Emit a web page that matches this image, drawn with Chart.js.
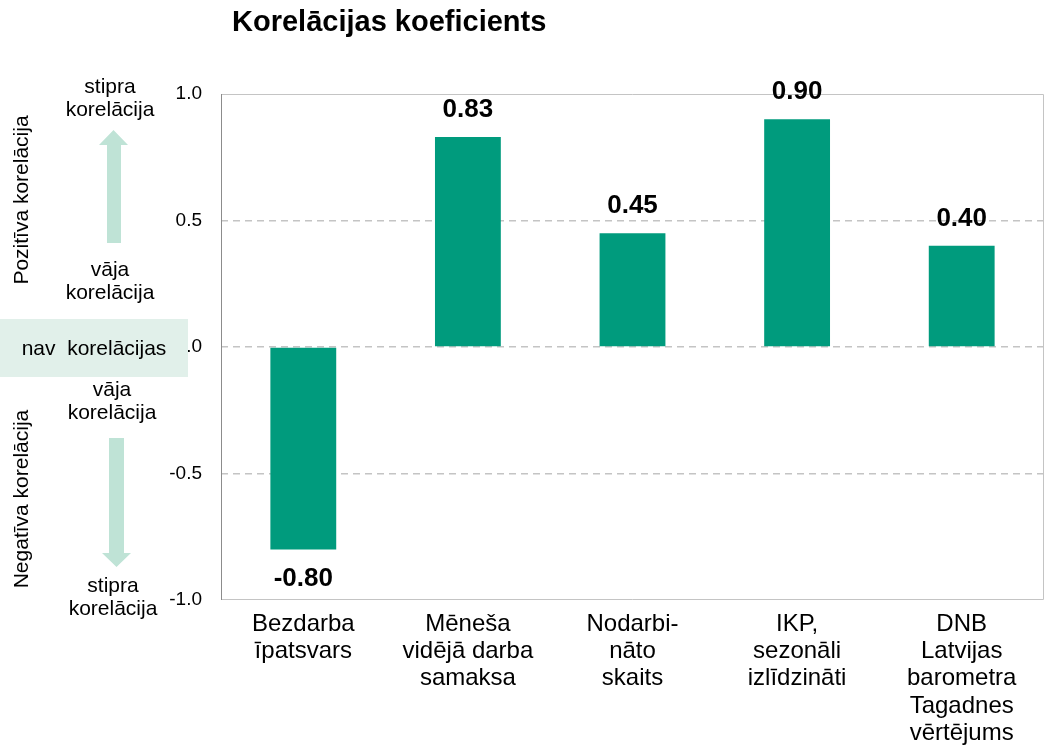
<!DOCTYPE html>
<html><head><meta charset="utf-8">
<script src="https://cdn.jsdelivr.net/npm/chart.js@4/dist/chart.umd.min.js"></script>
<style>html,body{margin:0;padding:0;background:#fff}#wrap{width:1046px;height:746px}</style>
</head><body><div id="wrap"><canvas id="c" width="1046" height="746"></canvas></div>
<script>
const categories = [
  ["Bezdarba", "īpatsvars"],
  ["Mēneša", "vidējā darba", "samaksa"],
  ["Nodarbi-", "nāto", "skaits"],
  ["IKP,", "sezonāli", "izlīdzināti"],
  ["DNB", "Latvijas", "barometra", "Tagadnes", "vērtējums"]
];
const coefficients = [-0.80, 0.83, 0.45, 0.90, 0.40];
const yTicks = [-1.0, -0.5, 0.0, 0.5, 1.0];
const titleText = "Korelācijas koeficients";
const FONT = "'Liberation Sans', Arial, sans-serif";

const decor = {
  id: 'decor',
  afterDraw(chart) {
    const ctx = chart.ctx, a = chart.chartArea;
    ctx.save();
    // plot border
    ctx.lineWidth = 1;
    ctx.strokeStyle = '#c4c4c4';
    ctx.beginPath();
    ctx.moveTo(a.left, a.top + 0.5); ctx.lineTo(a.right - 0.5, a.top + 0.5);
    ctx.lineTo(a.right - 0.5, a.bottom - 0.5); ctx.lineTo(a.left, a.bottom - 0.5);
    ctx.stroke();
    ctx.strokeStyle = '#8c8c8c';
    ctx.beginPath(); ctx.moveTo(a.left + 0.5, a.top); ctx.lineTo(a.left + 0.5, a.bottom); ctx.stroke();

    // title
    ctx.fillStyle = '#000';
    ctx.font = 'bold 29px ' + FONT;
    ctx.textAlign = 'left'; ctx.textBaseline = 'middle';
    ctx.fillText(titleText, 232, 23);

    // data labels
    const meta = chart.getDatasetMeta(0);
    ctx.font = 'bold 26px ' + FONT;
    ctx.textAlign = 'center';
    meta.data.forEach((bar, i) => {
      const v = coefficients[i];
      const y = v >= 0 ? bar.y - 27 : bar.y + 29;
      ctx.fillText(v.toFixed(2), bar.x, y);
    });

    // left annotations
    ctx.fillStyle = '#e1f0ea';
    ctx.fillRect(0, 319, 188, 58);
    ctx.fillStyle = '#bfe3d6';
    ctx.beginPath();
    ctx.moveTo(107, 243); ctx.lineTo(107, 145); ctx.lineTo(99, 145); ctx.lineTo(113.5, 130);
    ctx.lineTo(128, 145); ctx.lineTo(121, 145); ctx.lineTo(121, 243); ctx.closePath(); ctx.fill();
    ctx.beginPath();
    ctx.moveTo(109, 438); ctx.lineTo(109, 553); ctx.lineTo(102, 553); ctx.lineTo(116.5, 567);
    ctx.lineTo(131, 553); ctx.lineTo(124, 553); ctx.lineTo(124, 438); ctx.closePath(); ctx.fill();

    ctx.fillStyle = '#000';
    ctx.font = '21px ' + FONT;
    ctx.textAlign = 'center'; ctx.textBaseline = 'middle';
    const t = (s, x, y) => ctx.fillText(s, x, y);
    t('stipra', 110, 87); t('korelācija', 110, 110);
    t('vāja', 110, 270); t('korelācija', 110, 293);
    t('nav  korelācijas', 94, 349);
    t('vāja', 112, 390); t('korelācija', 112, 413);
    t('stipra', 113, 586); t('korelācija', 113, 609);
    ctx.save(); ctx.translate(22, 200); ctx.rotate(-Math.PI / 2); t('Pozitīva korelācija', 0, 0); ctx.restore();
    ctx.save(); ctx.translate(22, 499); ctx.rotate(-Math.PI / 2); t('Negatīva korelācija', 0, 0); ctx.restore();
    ctx.restore();
  }
};

new Chart(document.getElementById('c'), {
  type: 'bar',
  data: {
    labels: categories,
    datasets: [{
      data: coefficients,
      backgroundColor: '#009b7d',
      borderWidth: 0,
      barPercentage: 0.4,
      categoryPercentage: 1.0
    }]
  },
  options: {
    responsive: false,
    animation: false,
    events: [],
    layout: { padding: { top: 94, right: 2, left: 0, bottom: 0 } },
    plugins: { legend: { display: false }, title: { display: false }, tooltip: { enabled: false } },
    scales: {
      x: {
        grid: { display: false, drawTicks: false },
        border: { display: false },
        ticks: {
          color: '#000', font: { family: FONT, size: 24, lineHeight: 1.13 }, padding: 11,
          maxRotation: 0, autoSkip: false
        },
        afterFit(s) { s.height = 146; }
      },
      y: {
        min: -1, max: 1,
        afterBuildTicks(s) { s.ticks = yTicks.map(v => ({ value: v })); },
        grid: {
          drawTicks: false,
          color: ctx => (Math.abs(ctx.tick.value) === 1 ? 'rgba(0,0,0,0)' : '#c4c4c4'),
          lineWidth: 1.5
        },
        border: { display: false, dash: [7, 5] },
        ticks: {
          color: '#000', font: { family: FONT, size: 19 }, padding: 19,
          callback: v => Number(v).toFixed(1)
        },
        afterFit(s) { s.width = 221; }
      }
    }
  },
  plugins: [decor]
});
</script>
</body></html>
